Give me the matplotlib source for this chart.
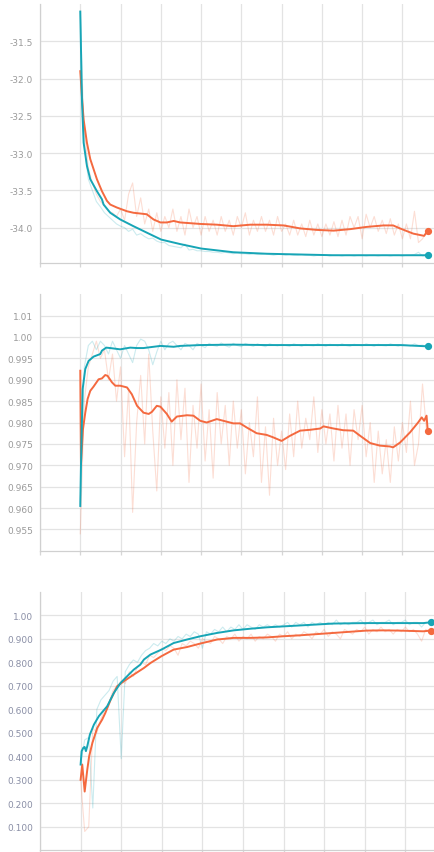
import numpy as np
import matplotlib.pyplot as plt

TEAL = "#17a5b6"
ORANGE = "#f4693f"

# raw steps (one point every 0.1 step unit)
raw_steps = np.round(np.arange(0, 8.65, 0.1), 2)

# ---------------- panel 1 ----------------
p1_teal_x = [0, 0.041, 0.083, 0.165, 0.248, 0.413, 0.538, 0.579, 0.744, 0.993, 1.32, 1.74,
             2.01, 2.48, 3.0, 3.80, 4.63, 5.46, 6.28, 7.5, 8.63]
p1_teal_y = [-31.10, -32.28, -32.86, -33.17, -33.35, -33.51, -33.62, -33.69, -33.80, -33.89,
             -33.98, -34.09, -34.16, -34.22, -34.28, -34.33, -34.35, -34.36, -34.37, -34.37, -34.37]
p1_orange_x = [0, 0.041, 0.083, 0.165, 0.248, 0.413, 0.538, 0.662, 0.744, 0.91, 1.16, 1.32,
               1.65, 1.82, 1.99, 2.15, 2.32, 2.48, 2.98, 3.39, 3.80, 4.22, 4.63, 5.05, 5.46,
               5.87, 6.29, 6.70, 7.11, 7.53, 7.77, 7.94, 8.27, 8.54, 8.63]
p1_orange_y = [-31.90, -32.24, -32.55, -32.86, -33.08, -33.35, -33.51, -33.64, -33.69, -33.73,
               -33.78, -33.80, -33.82, -33.89, -33.93, -33.93, -33.91, -33.93, -33.95, -33.96,
               -33.98, -33.96, -33.96, -33.97, -34.01, -34.03, -34.04, -34.02, -33.99, -33.97,
               -33.97, -34.01, -34.08, -34.11, -34.04]
p1_teal_raw = [-31.1, -32.9, -33.35, -33.5, -33.65, -33.72, -33.8, -33.85, -33.9, -33.95,
               -33.98, -34.0, -34.05, -34.02, -34.1, -34.08, -34.12, -34.15, -34.14, -34.18,
               -34.2, -34.2, -34.24, -34.25, -34.26, -34.27, -34.22, -34.3, -34.29, -34.31,
               -34.31, -34.32, -34.32, -34.33, -34.33, -34.34, -34.33, -34.34, -34.35, -34.34,
               -34.35, -34.35, -34.36, -34.35, -34.36, -34.36, -34.35, -34.36, -34.37, -34.36,
               -34.36, -34.37, -34.36, -34.37, -34.37, -34.36, -34.37, -34.37, -34.38, -34.37,
               -34.37, -34.37, -34.38, -34.37, -34.37, -34.38, -34.37, -34.37, -34.38, -34.37,
               -34.37, -34.38, -34.37, -34.37, -34.38, -34.37, -34.37, -34.38, -34.37, -34.37,
               -34.38, -34.37, -34.37, -34.36, -34.33, -34.38, -34.37]
p1_orange_raw = [-31.9, -32.7, -33.2, -33.4, -33.55, -33.65, -33.7, -33.78, -33.8, -33.85,
                 -33.75, -33.9, -33.55, -33.4, -33.85, -33.6, -33.95, -33.75, -34.05, -33.8,
                 -34.05, -33.85, -34.0, -33.75, -34.05, -33.85, -34.1, -33.75, -34.0, -33.85,
                 -34.1, -33.85, -34.05, -33.9, -34.1, -33.85, -34.05, -33.9, -34.1, -33.85,
                 -34.0, -33.8, -34.1, -33.9, -34.05, -33.85, -34.05, -33.9, -34.1, -33.85,
                 -34.05, -33.95, -34.1, -33.9, -34.1, -33.95, -34.12, -33.9, -34.1, -33.95,
                 -34.12, -33.95, -34.1, -33.92, -34.12, -33.9, -34.1, -33.85, -34.0, -33.85,
                 -34.15, -33.82, -34.0, -33.85, -34.05, -33.9, -34.08, -33.88, -34.1, -33.95,
                 -34.15, -33.95, -34.15, -33.78, -34.2, -34.15, -34.05]
p1_ticks = [-34.0, -33.5, -33.0, -32.5, -32.0, -31.5]
p1_labels = ["-34.0", "-33.5", "-33.0", "-32.5", "-32.0", "-31.5"]

# ---------------- panel 2 ----------------
p2_teal_x = [0, 0.017, 0.058, 0.124, 0.207, 0.33, 0.496, 0.538, 0.645, 0.744, 0.99, 1.24,
             1.41, 1.57, 1.82, 1.99, 2.32, 2.48, 2.98, 3.80, 4.63, 5.46, 6.29, 7.11, 7.94, 8.63]
p2_teal_y = [0.9605, 0.9699, 0.9878, 0.9925, 0.9944, 0.9954, 0.9960, 0.9968, 0.9975, 0.9974,
             0.9971, 0.9975, 0.9974, 0.9974, 0.9977, 0.9979, 0.9977, 0.9979, 0.9981, 0.9982,
             0.9981, 0.9981, 0.9981, 0.9981, 0.9981, 0.9978]
p2_orange_x = [0, 0.017, 0.066, 0.124, 0.182, 0.248, 0.33, 0.455, 0.538, 0.62, 0.678, 0.786,
               0.869, 0.993, 1.16, 1.28, 1.41, 1.57, 1.70, 1.78, 1.90, 1.99, 2.15, 2.27, 2.40,
               2.65, 2.81, 2.98, 3.14, 3.39, 3.80, 3.97, 4.14, 4.38, 4.63, 4.80, 5.00, 5.21,
               5.46, 5.71, 5.96, 6.04, 6.29, 6.53, 6.78, 6.95, 7.20, 7.44, 7.69, 7.77, 7.94,
               8.19, 8.39, 8.48, 8.54, 8.60, 8.63]
p2_orange_y = [0.9921, 0.9703, 0.9784, 0.9823, 0.9855, 0.9874, 0.9884, 0.9901, 0.9903, 0.9911,
               0.9909, 0.9894, 0.9886, 0.9886, 0.9882, 0.9866, 0.9839, 0.9823, 0.9820, 0.9825,
               0.9839, 0.9837, 0.9820, 0.9802, 0.9814, 0.9817, 0.9816, 0.9804, 0.9800, 0.9808,
               0.9798, 0.9798, 0.9788, 0.9775, 0.9771, 0.9765, 0.9757, 0.9769, 0.9781, 0.9783,
               0.9786, 0.9791, 0.9786, 0.9782, 0.9781, 0.9769, 0.9752, 0.9746, 0.9744, 0.9742,
               0.9753, 0.9777, 0.9800, 0.9812, 0.9804, 0.9816, 0.9780]
p2_teal_raw = [0.961, 0.993, 0.998, 0.999, 0.997, 0.999, 0.998, 0.996, 0.999, 0.997,
               0.995, 0.998, 0.996, 0.994, 0.998, 0.9995, 0.999, 0.997, 0.9935, 0.9965,
               0.999, 0.997, 0.9985, 0.999, 0.998, 0.997, 0.9985, 0.998, 0.997, 0.9985,
               0.998, 0.9975, 0.9985, 0.998, 0.9978, 0.9986, 0.998, 0.9976, 0.9985, 0.998,
               0.9977, 0.9985, 0.9981, 0.9978, 0.9984, 0.998, 0.9977, 0.9984, 0.9981, 0.9979,
               0.9983, 0.998, 0.9978, 0.9984, 0.9981, 0.9978, 0.9983, 0.998, 0.9979, 0.9984,
               0.9981, 0.9978, 0.9983, 0.9981, 0.9979, 0.9984, 0.998, 0.9978, 0.9983, 0.9981,
               0.9979, 0.9984, 0.9981, 0.9978, 0.9983, 0.998, 0.9979, 0.9984, 0.9981, 0.9978,
               0.9983, 0.9981, 0.9979, 0.9984, 0.998, 0.9981, 0.9978]
p2_orange_raw = [0.954, 0.985, 0.993, 0.996, 0.999, 0.995, 0.997, 0.990, 0.996, 0.985,
                 0.993, 0.972, 0.988, 0.959, 0.980, 0.991, 0.975, 0.996, 0.978, 0.964,
                 0.986, 0.974, 0.987, 0.970, 0.990, 0.976, 0.988, 0.966, 0.984, 0.974,
                 0.989, 0.971, 0.983, 0.967, 0.987, 0.975, 0.984, 0.970, 0.985, 0.974,
                 0.983, 0.968, 0.980, 0.972, 0.986, 0.966, 0.979, 0.963, 0.981, 0.970,
                 0.978, 0.969, 0.982, 0.972, 0.985, 0.974, 0.981, 0.976, 0.986, 0.973,
                 0.983, 0.975, 0.982, 0.971, 0.984, 0.974, 0.982, 0.970, 0.983, 0.976,
                 0.984, 0.972, 0.980, 0.966, 0.978, 0.968, 0.976, 0.966, 0.979, 0.971,
                 0.980, 0.973, 0.985, 0.970, 0.975, 0.989, 0.978]
# the top label reads 1.01 but sits one 0.005 step above 1.00
p2_ticks = [0.955, 0.960, 0.965, 0.970, 0.975, 0.980, 0.985, 0.990, 0.995, 1.000, 1.005]
p2_labels = ["0.955", "0.960", "0.965", "0.970", "0.975", "0.980", "0.985", "0.990",
             "0.995", "1.00", "1.01"]

# ---------------- panel 3 ----------------
p3_teal_x = [0, 0.025, 0.066, 0.098, 0.131, 0.164, 0.229, 0.328, 0.45, 0.532, 0.655, 0.82,
             0.983, 1.147, 1.31, 1.47, 1.56, 1.72, 1.99, 2.29, 2.62, 2.95, 3.36, 3.77, 4.18,
             4.59, 5.0, 5.41, 6.22, 7.04, 7.86, 8.44, 8.62]
p3_teal_y = [0.365, 0.422, 0.436, 0.440, 0.422, 0.443, 0.493, 0.535, 0.571, 0.588, 0.613,
             0.670, 0.712, 0.741, 0.769, 0.790, 0.812, 0.833, 0.854, 0.882, 0.897, 0.911,
             0.925, 0.936, 0.943, 0.949, 0.953, 0.957, 0.965, 0.967, 0.967, 0.967, 0.970]
p3_orange_x = [0, 0.04, 0.10, 0.165, 0.21, 0.29, 0.41, 0.53, 0.61, 0.74, 0.90, 1.06, 1.31,
               1.56, 1.72, 1.99, 2.29, 2.62, 2.95, 3.36, 3.77, 4.18, 4.59, 5.0, 5.41, 6.22,
               7.04, 7.45, 7.86, 8.44, 8.62]
p3_orange_y = [0.300, 0.365, 0.250, 0.344, 0.400, 0.457, 0.521, 0.556, 0.585, 0.641, 0.698,
               0.719, 0.748, 0.776, 0.797, 0.826, 0.854, 0.865, 0.880, 0.897, 0.904, 0.904,
               0.906, 0.911, 0.915, 0.925, 0.935, 0.936, 0.935, 0.932, 0.935]
p3_teal_raw = [0.37, 0.47, 0.48, 0.18, 0.60, 0.64, 0.66, 0.68, 0.72, 0.74,
               0.39, 0.76, 0.79, 0.81, 0.80, 0.83, 0.85, 0.86, 0.88, 0.87,
               0.89, 0.88, 0.90, 0.89, 0.91, 0.90, 0.92, 0.91, 0.93, 0.92,
               0.86, 0.93, 0.92, 0.94, 0.93, 0.95, 0.93, 0.95, 0.94, 0.96,
               0.94, 0.96, 0.95, 0.94, 0.96, 0.95, 0.96, 0.95, 0.96, 0.95,
               0.96, 0.97, 0.95, 0.97, 0.96, 0.97, 0.95, 0.97, 0.96, 0.97,
               0.96, 0.97, 0.96, 0.98, 0.96, 0.97, 0.96, 0.97, 0.97, 0.98,
               0.96, 0.97, 0.98, 0.96, 0.97, 0.97, 0.98, 0.96, 0.97, 0.97,
               0.98, 0.96, 0.97, 0.97, 0.95, 0.97, 0.97]
p3_orange_raw = [0.30, 0.08, 0.10, 0.52, 0.50, 0.56, 0.60, 0.63, 0.68, 0.70,
                 0.72, 0.71, 0.76, 0.74, 0.78, 0.80, 0.79, 0.83, 0.82, 0.84,
                 0.86, 0.85, 0.87, 0.86, 0.83, 0.88, 0.87, 0.89, 0.88, 0.86,
                 0.90, 0.89, 0.88, 0.91, 0.90, 0.88, 0.91, 0.90, 0.92, 0.89,
                 0.91, 0.90, 0.92, 0.89, 0.91, 0.90, 0.92, 0.91, 0.89, 0.92,
                 0.91, 0.93, 0.90, 0.92, 0.91, 0.93, 0.92, 0.90, 0.93, 0.92,
                 0.94, 0.91, 0.93, 0.92, 0.90, 0.94, 0.93, 0.92, 0.94, 0.93,
                 0.95, 0.92, 0.94, 0.93, 0.95, 0.93, 0.94, 0.92, 0.94, 0.93,
                 0.95, 0.93, 0.94, 0.92, 0.89, 0.94, 0.93]
p3_ticks = [0.1, 0.2, 0.3, 0.4, 0.5, 0.6, 0.7, 0.8, 0.9, 1.0]
p3_labels = ["0.100", "0.200", "0.300", "0.400", "0.500", "0.600", "0.700", "0.800",
             "0.900", "1.00"]


def draw_panel(ax, teal_raw, orange_raw, teal_x, teal_y, orange_x, orange_y,
               ticks, labels, ylim, xlim, label_color):
    ax.plot(raw_steps, orange_raw, color=ORANGE, lw=0.8, alpha=0.22, zorder=2)
    ax.plot(raw_steps, teal_raw, color=TEAL, lw=0.8, alpha=0.22, zorder=2)
    ax.plot(orange_x, orange_y, color=ORANGE, lw=1.4, zorder=3)
    ax.plot(teal_x, teal_y, color=TEAL, lw=1.4, zorder=4)
    ax.plot(orange_x[-1], orange_y[-1], "o", color=ORANGE, ms=4.2, zorder=5)
    ax.plot(teal_x[-1], teal_y[-1], "o", color=TEAL, ms=4.2, zorder=5)

    ax.set_xlim(*xlim)
    ax.set_ylim(*ylim)
    ax.set_xticks(np.arange(-1, 9, 1))
    ax.set_xticklabels([])
    ax.set_yticks(ticks)
    ax.set_yticklabels(labels)
    ax.tick_params(axis="y", length=0, pad=5, labelsize=6.5, labelcolor=label_color)
    ax.tick_params(axis="x", length=3, color="#d6d6d6", width=0.9)
    ax.grid(color="#e3e3e3", lw=0.9, zorder=0)
    for side in ("top", "right"):
        ax.spines[side].set_visible(False)
    for side in ("left", "bottom"):
        ax.spines[side].set_color("#d0d0d0")
        ax.spines[side].set_linewidth(0.9)


plt.rcParams["axes.unicode_minus"] = False
fig = plt.figure(figsize=(4.35, 8.53), dpi=100)

ax1 = fig.add_axes([0.092, 0.690, 0.908, 0.304])
draw_panel(ax1, p1_teal_raw, p1_orange_raw, p1_teal_x, p1_teal_y, p1_orange_x, p1_orange_y,
           p1_ticks, p1_labels, (-34.48, -31.0), (-1, 8.81), "#9a9a9a")

ax2 = fig.add_axes([0.092, 0.353, 0.908, 0.301])
draw_panel(ax2, p2_teal_raw, p2_orange_raw, p2_teal_x, p2_teal_y, p2_orange_x, p2_orange_y,
           p2_ticks, p2_labels, (0.950, 1.010), (-1, 8.81), "#9a9a9a")

ax3 = fig.add_axes([0.092, 0.002, 0.908, 0.303])
draw_panel(ax3, p3_teal_raw, p3_orange_raw, p3_teal_x, p3_teal_y, p3_orange_x, p3_orange_y,
           p3_ticks, p3_labels, (0.0, 1.1), (-1, 8.73), "#8a8fa6")

fig.savefig("out.png", dpi=100)
